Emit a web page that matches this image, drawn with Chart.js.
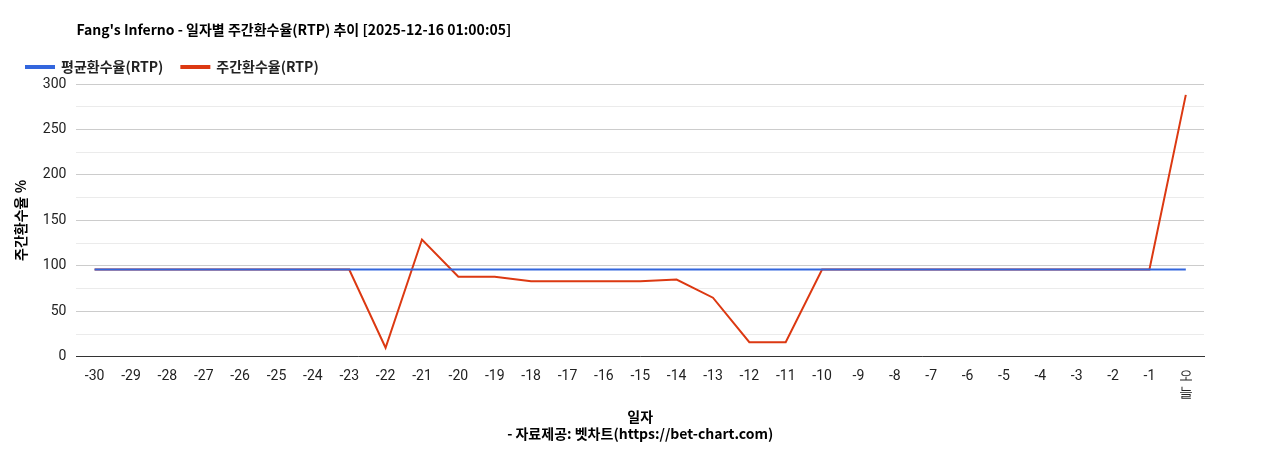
<!DOCTYPE html>
<html><head><meta charset="utf-8">
<script src="https://cdn.jsdelivr.net/npm/chart.js@4"></script>
<style>body{margin:0;background:#fff}#wrap{width:1268px;height:450px;position:relative}</style>
</head><body><div id="wrap"><canvas id="c"></canvas></div>
<script>
const labels = ["-30","-29","-28","-27","-26","-25","-24","-23","-22","-21","-20","-19","-18","-17","-16","-15","-14","-13","-12","-11","-10","-9","-8","-7","-6","-5","-4","-3","-2","-1",["오","늘"]];
const avgRtp = Array(31).fill(96);
const weeklyRtp = [96,96,96,96,96,96,96,96,10,129,88,88,83,83,83,83,85,65,16,16,96,96,96,96,96,96,96,96,96,96,288];
const titleText = "Fang's Inferno - 일자별 주간환수율(RTP) 추이 [2025-12-16 01:00:05]";
const font = "'Noto Sans CJK KR', Roboto, sans-serif";
Chart.defaults.font.family = font;
Chart.defaults.color = "#222";

// title drawn at the plot's left edge, like the reference
const leftTitle = {
  id: "leftTitle",
  afterDraw(chart) {
    const ctx = chart.ctx;
    ctx.save();
    ctx.font = "bold 14px " + font;
    ctx.fillStyle = "#000";
    ctx.textBaseline = "middle";
    ctx.fillText(titleText, chart.chartArea.left, 30);
    ctx.restore();
  },
};

new Chart(document.getElementById("c"), {
  type: "line",
  data: {
    labels,
    datasets: [
      { label: "평균환수율(RTP)", data: avgRtp, borderColor: "#3366dd", backgroundColor: "#3366dd", borderWidth: 2, pointRadius: 0, tension: 0 },
      { label: "주간환수율(RTP)", data: weeklyRtp, borderColor: "#dc3912", backgroundColor: "#dc3912", borderWidth: 2, pointRadius: 0, tension: 0 },
    ],
  },
  options: {
    responsive: true,
    maintainAspectRatio: false,
    animation: false,
    layout: { padding: { left: 8, right: 64, top: 42, bottom: 4 } },
    plugins: {
      legend: { align: "start", labels: { boxWidth: 28, boxHeight: 2, font: { size: 14, weight: "bold" }, color: "#222", padding: 18 } },
      tooltip: { enabled: false },
    },
    scales: {
      x: {
        offset: true,
        grid: { display: false },
        border: { color: "#333" },
        ticks: { font: { size: 14, family: "Roboto, sans-serif" }, color: "#222", maxRotation: 0, autoSkip: false },
        title: { display: true, text: ["일자", "- 자료제공: 벳차트(https://bet-chart.com)"], font: { size: 14, weight: "bold" }, color: "#000", padding: { top: 4 } },
      },
      y: {
        min: 0, max: 300,
        ticks: { stepSize: 25, font: { size: 14, family: "Roboto, sans-serif" }, color: "#222", padding: 10, callback: (v) => (v % 50 === 0 ? v : "") },
        grid: { color: (ctx) => (ctx.tick.value % 50 === 0 ? "#ccc" : "#ebebeb"), drawTicks: false },
        border: { display: false },
        title: { display: true, text: "주간환수율 %", font: { size: 14, weight: "bold" }, color: "#000" },
      },
    },
  },
  plugins: [leftTitle],
});
</script></body></html>
